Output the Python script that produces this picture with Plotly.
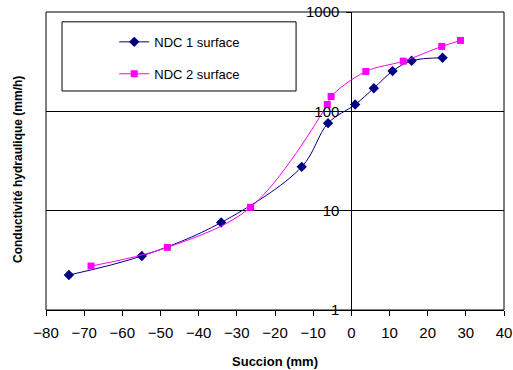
import plotly.graph_objects as go

# NDC 1 surface
succion_1 = [-74.0, -54.9, -34.1, -13.0, -6.1, 1.0, 5.9, 10.8, 15.8, 23.9]
conduct_1 = [2.25, 3.5, 7.6, 27.6, 76, 117, 171, 254, 323, 346]

# NDC 2 surface
succion_2 = [-68.2, -48.2, -26.4, -6.3, -5.3, 3.8, 13.6, 23.7, 28.6]
conduct_2 = [2.77, 4.27, 10.8, 117, 141, 252, 320, 450, 517]

x_ticks = list(range(-80, 41, 10))
y_ticks = [1, 10, 100, 1000]

font = "Liberation Sans, Arial, sans-serif"

fig = go.Figure()
fig.add_trace(go.Scatter(
    x=succion_1, y=conduct_1, name="NDC 1 surface", legendgroup="a",
    mode="lines+markers", line=dict(color="#000080", width=1, shape="spline"),
    marker=dict(symbol="diamond", size=8, color="#000080"),
))
fig.add_trace(go.Scatter(
    x=succion_2, y=conduct_2, name="NDC 2 surface", legendgroup="b",
    mode="lines+markers", line=dict(color="#FF00FF", width=1, shape="spline"),
    marker=dict(symbol="square", size=7, color="#FF00FF"),
))

fig.update_layout(
    width=513, height=370,
    margin=dict(l=46, r=9, t=12, b=60),
    paper_bgcolor="white", plot_bgcolor="white",
    font=dict(family=font, size=15, color="black"),
    showlegend=True,
    legend=dict(x=0.149, y=0.95, xanchor="left", yanchor="top",
                bgcolor="rgba(0,0,0,0)", font=dict(size=13),
                tracegroupgap=12, itemwidth=30),
    xaxis=dict(range=[-80, 40], tickvals=x_ticks, ticks="outside", ticklen=5,
               tickcolor="black", showline=True, linecolor="black", linewidth=1,
               showgrid=False, zeroline=True, zerolinecolor="black", zerolinewidth=1,
               domain=[0, 1], automargin=False, ticklabelstandoff=4,
               ticklabeloverflow="allow",
               title=dict(text="<b>Succion (mm)</b>", font=dict(size=13), standoff=16)),
    yaxis=dict(type="log", range=[0, 3], tickvals=y_ticks, ticktext=[str(v) for v in y_ticks],
               anchor="free", position=80 / 120, ticks="outside", ticklen=5,
               tickcolor="black", showline=False, showgrid=True, gridcolor="black",
               gridwidth=1, zeroline=False, automargin=False, ticklabelstandoff=4,
               ticklabeloverflow="allow"),
    annotations=[dict(text="<b>Conductivité hydraulique (mm/h)</b>", textangle=-90,
                      xref="paper", yref="paper", x=-0.061, y=0.47,
                      xanchor="center", yanchor="middle", showarrow=False,
                      font=dict(size=12))],
    shapes=[
        dict(type="rect", xref="paper", yref="paper", x0=0, x1=1, y0=0, y1=1,
             line=dict(color="black", width=1)),
        dict(type="rect", xref="paper", yref="paper", x0=0.035, x1=0.546, y0=0.735, y1=0.967,
             line=dict(color="black", width=1), fillcolor="white", layer="below"),
    ],
)

# drop the default page margin so the figure fills the window exactly
fig.write_html("out.html", config={"displayModeBar": False},
               post_script="document.body.style.margin='0';document.body.style.overflow='hidden';")
